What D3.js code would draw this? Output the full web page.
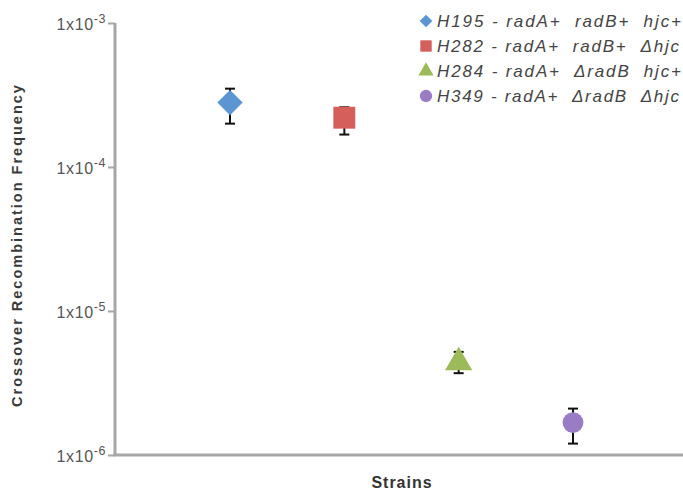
<!DOCTYPE html>
<html><head><meta charset="utf-8">
<script src="https://cdn.jsdelivr.net/npm/d3@7"></script>
<style>body{margin:0;background:#fff}svg{display:block;font-family:"Liberation Sans",Arial,sans-serif}</style>
</head><body><svg id="c" width="683" height="490"></svg>
<script>
const strains = ["H195","H282","H284","H349"];
const genotypes = [
  "radA+  radB+  hjc+",
  "radA+  radB+  Δhjc",
  "radA+  ΔradB  hjc+",
  "radA+  ΔradB  Δhjc"
];
const values = [2.8e-4, 2.2e-4, 4.4e-6, 1.68e-6];
const errUpper = [3.5e-4, 2.6e-4, 5.2e-6, 2.1e-6];
const errLower = [2.0e-4, 1.68e-4, 3.7e-6, 1.2e-6];
const yTicks = [1e-6, 1e-5, 1e-4, 1e-3];
const tickExp = ["-6","-5","-4","-3"];
const colors = ["#5b96d3","#d5605b","#9bbb59","#9a7cc4"];
const shapes = [d3.symbolSquare, d3.symbolSquare, d3.symbolTriangle, d3.symbolCircle];
const rotations = [45, 0, 0, 0];

const svg = d3.select("#c");
const y = d3.scaleLog().domain([1e-6,1e-3]).range([455,23]);
const x = d3.scalePoint().domain(strains).range([230,573]);
const axisX0 = 115;

// y axis
const yAxis = d3.axisLeft(y).tickValues(yTicks).tickSize(7).tickFormat(()=>"");
const gy = svg.append("g").attr("transform",`translate(${axisX0},0)`).call(yAxis);
gy.select(".domain").attr("stroke","#a6a6a6").attr("stroke-width",3).attr("d",`M0,${y(1e-3)}V${y(1e-6)}`);
gy.selectAll(".tick line").attr("stroke","#a6a6a6").attr("stroke-width",2);
gy.selectAll(".tick").each(function(d){
  const t = d3.select(this).append("text").attr("fill","#555").attr("font-size",16)
    .attr("letter-spacing",0.6).attr("text-anchor","end").attr("x",-9).attr("y",6);
  t.append("tspan").text("1x10");
  t.append("tspan").attr("dy",-7).attr("font-size",12.5).text(tickExp[yTicks.indexOf(d)]);
});
// x axis
svg.append("line").attr("x1",axisX0-1.5).attr("x2",683).attr("y1",y(1e-6)).attr("y2",y(1e-6))
  .attr("stroke","#a6a6a6").attr("stroke-width",3);

// titles
svg.append("text").attr("transform","translate(22,245) rotate(-90)").attr("text-anchor","middle")
  .attr("font-size",14.5).attr("font-weight","bold").attr("fill","#3a3a3a").attr("letter-spacing",2)
  .text("Crossover Recombination Frequency");
svg.append("text").attr("x",402).attr("y",488).attr("text-anchor","middle")
  .attr("font-size",16).attr("font-weight","bold").attr("fill","#333").attr("letter-spacing",1)
  .text("Strains");

// error bars
const eb = svg.append("g");
strains.forEach((s,i)=>{
  const cx = x(s);
  eb.append("line").attr("x1",cx).attr("x2",cx).attr("y1",y(errUpper[i])).attr("y2",y(errLower[i])).attr("stroke","#111").attr("stroke-width",2);
  [errUpper[i],errLower[i]].forEach(v=>eb.append("line").attr("x1",cx-5).attr("x2",cx+5).attr("y1",y(v)).attr("y2",y(v)).attr("stroke","#111").attr("stroke-width",2));
});
// markers
const sizes = [320, 480, 320, 340];
svg.append("g").selectAll("path").data(strains).join("path")
  .attr("transform",(d,i)=>`translate(${x(d)},${y(values[i])}) rotate(${rotations[i]})`)
  .attr("d",(d,i)=>d3.symbol(shapes[i], sizes[i])())
  .attr("fill",(d,i)=>colors[i]);

// legend
const lg = svg.append("g");
strains.forEach((s,i)=>{
  const ly = 21 + i*25;
  const lsize = [80,130,100,120][i];
  lg.append("path").attr("transform",`translate(426,${ly}) rotate(${rotations[i]})`).attr("d",d3.symbol(shapes[i],lsize)()).attr("fill",colors[i]);
  lg.append("text").attr("x",437).attr("y",ly+6).attr("font-size",17).attr("font-style","italic").attr("fill","#444")
    .attr("xml:space","preserve").attr("textLength",i%2===0?244:242).attr("lengthAdjust","spacing")
    .text(s+" - "+genotypes[i]);
});
</script></body></html>
